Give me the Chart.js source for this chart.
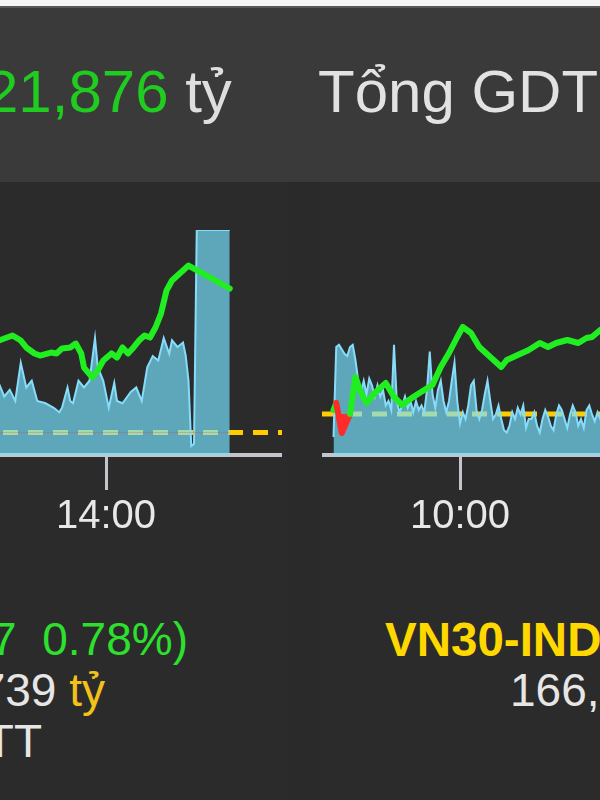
<!DOCTYPE html>
<html><head><meta charset="utf-8">
<script src="https://cdn.jsdelivr.net/npm/chart.js@4/dist/chart.umd.min.js"></script>
<style>
html,body{margin:0;padding:0;width:600px;height:800px;overflow:hidden;background:#2b2b2b;font-family:"Liberation Sans",Arial,sans-serif;}
.abs{position:absolute;white-space:pre;}
#topwhite{position:absolute;left:0;top:0;width:600px;height:6px;background:#f4f4f4;}
#bar{position:absolute;left:0;top:6px;width:600px;height:176px;background:#3a3a3a;border-top:2px solid #575757;box-sizing:border-box;}
#sep{position:absolute;left:287px;top:182px;width:32px;height:618px;background:#2a2a2a;}
.big{font-size:60px;line-height:60px;top:62px;}
.mid{font-size:46px;line-height:51px;}
canvas{position:absolute;}
</style></head>
<body>
<div id="topwhite"></div>
<div id="bar"></div>
<div id="sep"></div>
<div class="abs big" style="left:-15px;"><span style="color:#1fcc1f">21,876</span><span style="color:#dedede"> tỷ</span></div>
<div class="abs big" style="left:318px;color:#e2e2e2">Tổng GDT</div>

<canvas id="left" width="282" height="350" style="left:0px;top:200px"></canvas>
<canvas id="right" width="300" height="350" style="left:322px;top:200px"></canvas>

<div class="abs mid" style="right:412px;top:614px;color:#2ee02e">(+9.77  0.78%)</div>
<div class="abs mid" style="right:495px;top:665px;color:#e6e6e6">12,739 <span style="color:#f2c21a">tỷ</span></div>
<div class="abs mid" style="right:558px;top:716px;color:#e6e6e6">GDTT</div>
<div class="abs mid" style="left:385px;top:614px;color:#ffd800;font-weight:bold;font-size:47.5px">VN30-INDEX</div>
<div class="abs mid" style="left:510px;top:665px;color:#e6e6e6">166,415 <span style="color:#f2c21a">tỷ</span></div>

<script>
// ---------- data ----------
const leftVolTimes = ['13:21','13:23','13:25','13:27','13:29','13:31','13:33','13:35','13:38','13:41','13:43','13:44','13:46','13:47','13:48','13:50','13:52','13:54','13:56','13:57','13:59','14:01','14:03','14:04','14:06','14:09','14:11','14:13','14:15','14:17','14:19','14:21','14:23','14:24','14:26','14:28','14:29','14:30','14:31','14:32','14:33','14:45'];
const leftVolume   = [32,26,29,24,41,30,33,24,23,21,19,21,30,24,23,33,30,33,52,39,33,21,32,24,23,28,30,24,39,44,42,52,45,51,48,50,44,33,4,5,100,100];

const leftPriceTimes = ['13:21','13:24','13:26','13:29','13:31','13:34','13:36','13:40','13:42','13:44','13:47','13:49','13:51','13:52','13:55','13:57','13:59','14:02','14:04','14:06','14:08','14:10','14:12','14:14','14:16','14:18','14:20','14:22','14:24','14:28','14:30','14:45'];
const leftPrice      = [1256.13,1256.33,1256.47,1256.13,1255.67,1255.27,1255.13,1255.33,1255.27,1255.60,1255.67,1255.93,1255.27,1254.33,1253.67,1254.13,1254.80,1255.27,1255.00,1255.67,1255.27,1255.67,1256.13,1256.47,1256.33,1257.00,1257.93,1259.47,1260.13,1260.80,1261.13,1259.60];
const leftRef = 1250.00;
const leftTickLabels = ['14:00'];

const rightVolTimes = ['09:14','09:15','09:16','09:17','09:18','09:19','09:20','09:21','09:22','09:23','09:24','09:25','09:26','09:27','09:28','09:29','09:30','09:31','09:32','09:33','09:34','09:35','09:36','09:37','09:38','09:39','09:40','09:41','09:42','09:43','09:44','09:45','09:46','09:47','09:48','09:49','09:50','09:51','09:52','09:53','09:54','09:55','09:56','09:57','09:58','09:59','10:00','10:01','10:02','10:03','10:04','10:05','10:06','10:07','10:08','10:09','10:10','10:11','10:12','10:13','10:14','10:15','10:16','10:17','10:18','10:19','10:20','10:21','10:22','10:23','10:24','10:25','10:26','10:27','10:28','10:29','10:30','10:31','10:32','10:33','10:34','10:35','10:36','10:37','10:38','10:39','10:40','10:41','10:42','10:43','10:44','10:45','10:46','10:47','10:48','10:49','10:50','10:51','10:52','10:53'];
const rightVolume   = [8,48,49,47,45,44,48,49,42,33,28,33,27,34,31,26,31,26,29,22,24,20,49,24,19,22,26,21,24,19,24,20,22,19,29,46,27,21,29,33,24,19,24,33,41,24,14,19,16,22,31,33,20,16,20,27,33,24,16,18,22,16,11,10,13,19,16,21,18,22,12,16,16,19,13,10,16,20,17,13,11,18,22,20,16,12,18,22,19,13,16,12,20,22,18,15,19,16,18,20];

const rightPriceTimes = ['09:14','09:15','09:17','09:20','09:22','09:24','09:26','09:29','09:33','09:36','09:39','09:43','09:47','09:50','09:53','09:56','09:59','10:01','10:04','10:07','10:11','10:15','10:17','10:21','10:25','10:29','10:32','10:35','10:39','10:43','10:46','10:48','10:51','10:54'];
const rightPrice      = [1300.4,1301.1,1298.1,1300.0,1303.7,1302.1,1301.1,1302.1,1303.1,1301.7,1300.9,1301.7,1302.4,1302.9,1304.7,1306.1,1307.7,1308.7,1308.1,1306.7,1305.7,1304.7,1305.4,1305.9,1306.4,1307.1,1306.7,1307.1,1307.4,1307.1,1307.6,1307.7,1308.4,1308.6];
const rightRef = 1300.0;
const rightTickLabels = ['10:00'];

// ---------- helpers ----------
const toMin = s => { const [h,m] = s.split(':').map(Number); return h*60+m; };
const fmt = v => { const h = Math.floor(v/60), m = Math.round(v - h*60); return String(h).padStart(2,'0')+':'+String(m).padStart(2,'0'); };
const pts = (times, vals) => times.map((t,i)=>({x:toMin(t), y:vals[i]}));

const GREEN = '#20ee20', RED = '#ff2b2b', AXIS = '#c4c4cc';

function makeChart(id, o){
  const xMin = o.xMin, xMax = o.xMax;
  new Chart(document.getElementById(id), {
    type:'line',
    data:{ datasets:[
      { // price
        data: pts(o.priceTimes, o.price), yAxisID:'yp', order:0,
        borderColor: GREEN, borderWidth:6, pointRadius:0, tension:0,
        borderJoinStyle:'round', borderCapStyle:'round',
        fill:{ target:{value:o.ref}, above:'rgba(0,0,0,0)', below:RED },
        segment:{ borderColor: c => (Math.min(c.p0.parsed.y, c.p1.parsed.y) < o.ref ? RED : undefined) }
      },
      { // volume
        data: pts(o.volTimes, o.vol), yAxisID:'yv', order:1,
        borderColor:'#86dcfa', borderWidth:2, pointRadius:0, tension:0,
        backgroundColor:'rgba(120,225,255,0.68)', fill:'origin'
      },
      { // reference price
        data:[{x:xMin,y:o.ref},{x:xMax,y:o.ref}], yAxisID:'yp', order:2,
        borderColor:'#ffcc00', borderWidth:5, borderDash:[15,10], borderDashOffset:o.dashOffset,
        pointRadius:0, fill:false
      }
    ]},
    options:{
      responsive:false, animation:false, devicePixelRatio:1,
      layout:{ padding:{top:30,left:0,right:0,bottom:0} },
      plugins:{ legend:{display:false}, tooltip:{enabled:false} },
      scales:{
        x:{ type:'linear', min:xMin, max:xMax,
            border:{display:true, color:AXIS, width:4},
            grid:{ drawOnChartArea:false, drawTicks:true, tickLength:35, tickWidth:3, tickColor:AXIS },
            ticks:{ color:'#e8e8e8', font:{family:'Liberation Sans', size:40}, padding:3, maxRotation:0, autoSkip:false,
                    callback: v => fmt(v) },
            afterBuildTicks: s => { s.ticks = o.ticks.map(t=>({value:toMin(t)})); },
            afterFit: s => { s.height = 95; }
        },
        yv:{ display:false, min:0, max:100 },
        yp:{ display:false, min:o.pMin, max:o.pMax }
      }
    }
  });
}

makeChart('left', { volTimes:leftVolTimes, vol:leftVolume, priceTimes:leftPriceTimes, price:leftPrice,
  ref:leftRef, ticks:leftTickLabels, xMin:801.45, xMax:904.0, pMin:1248.5, pMax:1263.5, dashOffset:-3 });
makeChart('right', { volTimes:rightVolTimes, vol:rightVolume, priceTimes:rightPriceTimes, price:rightPrice,
  ref:rightRef, ticks:rightTickLabels, xMin:549.82, xMax:658.9, pMin:1295.9, pMax:1318.4, dashOffset:0 });
</script>
</body></html>
